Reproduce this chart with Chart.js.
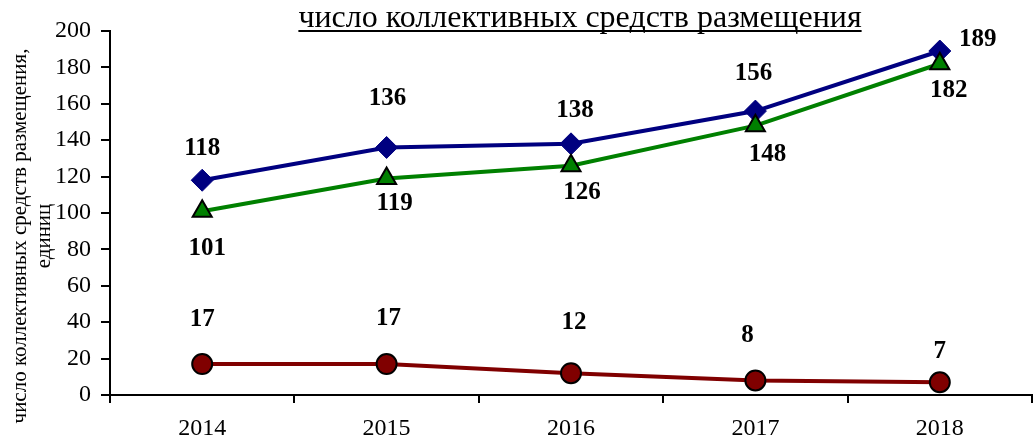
<!DOCTYPE html>
<html lang="ru">
<head>
    <meta charset="utf-8" />
    <title>число коллективных средств размещения</title>
    <script src="https://cdn.jsdelivr.net/npm/chart.js@4.4.0/dist/chart.umd.min.js"></script>
    <style>
        html, body { margin: 0; padding: 0; background: #fff; overflow: hidden; }
        canvas { display: block; }
    </style>
</head>
<body>
    <canvas id="chart" width="1033" height="443"></canvas>
    <script>
        // Данные
        const years = ['2014', '2015', '2016', '2017', '2018'];
        const seriesBlue = [118, 136, 138, 156, 189];
        const seriesGreen = [101, 119, 126, 148, 182];
        const seriesRed = [17, 17, 12, 8, 7];
        const yTicks = [0, 20, 40, 60, 80, 100, 120, 140, 160, 180, 200];

        const titleText = 'число коллективных средств размещения';
        const yTitle = ['число коллективных средств размещения,', 'единиц'];

        const serif = '"Liberation Serif", "Times New Roman", serif';

        // Подписи значений со смещениями (как в исходной диаграмме)
        const valueLabels = {
            id: 'valueLabels',
            afterDatasetsDraw(chart) {
                const ctx = chart.ctx;
                ctx.save();
                ctx.font = 'bold 25px ' + serif;
                ctx.fillStyle = '#000';
                ctx.textAlign = 'center';
                ctx.textBaseline = 'middle';
                chart.data.datasets.forEach((ds, i) => {
                    const meta = chart.getDatasetMeta(i);
                    meta.data.forEach((pt, j) => {
                        const off = ds.labelOffsets[j];
                        ctx.fillText(String(ds.data[j]), pt.x + off[0], pt.y + off[1]);
                    });
                });
                ctx.restore();
            }
        };

        // Заголовок с подчёркиванием и подпись оси Y
        const titles = {
            id: 'titles',
            afterDraw(chart) {
                const ctx = chart.ctx;
                ctx.save();
                ctx.fillStyle = '#000';
                ctx.font = '32px ' + serif;
                ctx.textAlign = 'center';
                ctx.textBaseline = 'alphabetic';
                const cx = 580, by = 27;
                ctx.fillText(titleText, cx, by);
                const w = ctx.measureText(titleText).width;
                ctx.fillRect(cx - w / 2, by + 3, w, 2);

                ctx.font = '21px ' + serif;
                ctx.textBaseline = 'middle';
                ctx.translate(0, 236);
                ctx.rotate(-Math.PI / 2);
                ctx.fillText(yTitle[0], 0, 20);
                ctx.fillText(yTitle[1], 0, 44);
                ctx.restore();
            }
        };

        const ctx = document.getElementById('chart').getContext('2d');
        new Chart(ctx, {
            type: 'line',
            data: {
                labels: years,
                datasets: [
                    {
                        data: seriesBlue,
                        borderColor: '#000080',
                        backgroundColor: '#000080',
                        borderWidth: 4,
                        pointStyle: 'rectRot',
                        pointRadius: 11,
                        pointBorderWidth: 1,
                        pointBorderColor: '#000080',
                        order: 1,
                        labelOffsets: [[0, -32], [1, -49], [4, -33], [-2, -38], [38, -11]]
                    },
                    {
                        data: seriesGreen,
                        borderColor: '#008000',
                        backgroundColor: '#008000',
                        borderWidth: 4,
                        pointStyle: 'triangle',
                        pointRadius: 11,
                        pointBorderWidth: 2,
                        pointBorderColor: '#000',
                        order: 0,
                        labelOffsets: [[5, 37], [8, 25], [11, 27], [12, 29], [9, 27]]
                    },
                    {
                        data: seriesRed,
                        borderColor: '#800000',
                        backgroundColor: '#800000',
                        borderWidth: 4,
                        pointStyle: 'circle',
                        pointRadius: 10,
                        pointBorderWidth: 2,
                        pointBorderColor: '#000',
                        order: 2,
                        labelOffsets: [[0, -45], [2, -46], [3, -51], [-8, -45], [0, -31]]
                    }
                ]
            },
            options: {
                responsive: false,
                animation: false,
                events: [],
                layout: { autoPadding: false, padding: { top: 31, right: 1, left: 0, bottom: 0 } },
                plugins: {
                    legend: { display: false },
                    title: { display: false },
                    tooltip: { enabled: false }
                },
                scales: {
                    x: {
                        offset: true,
                        grid: {
                            offset: true,
                            drawOnChartArea: false,
                            drawTicks: true,
                            tickLength: 8,
                            color: '#000',
                            lineWidth: 2
                        },
                        border: { color: '#000', width: 2 },
                        ticks: {
                            color: '#000',
                            font: { family: serif, size: 24 },
                            padding: 11
                        },
                        afterFit(scale) { scale.height = 48; }
                    },
                    y: {
                        min: 0,
                        max: 200,
                        afterBuildTicks(scale) { scale.ticks = yTicks.map(v => ({ value: v })); },
                        grid: {
                            drawOnChartArea: false,
                            drawTicks: true,
                            tickLength: 9,
                            color: '#000',
                            lineWidth: 2
                        },
                        border: { color: '#000', width: 2 },
                        ticks: {
                            color: '#000',
                            font: { family: serif, size: 24 },
                            padding: 10
                        },
                        afterFit(scale) { scale.width = 110; }
                    }
                }
            },
            plugins: [valueLabels, titles]
        });
    </script>
</body>
</html>
